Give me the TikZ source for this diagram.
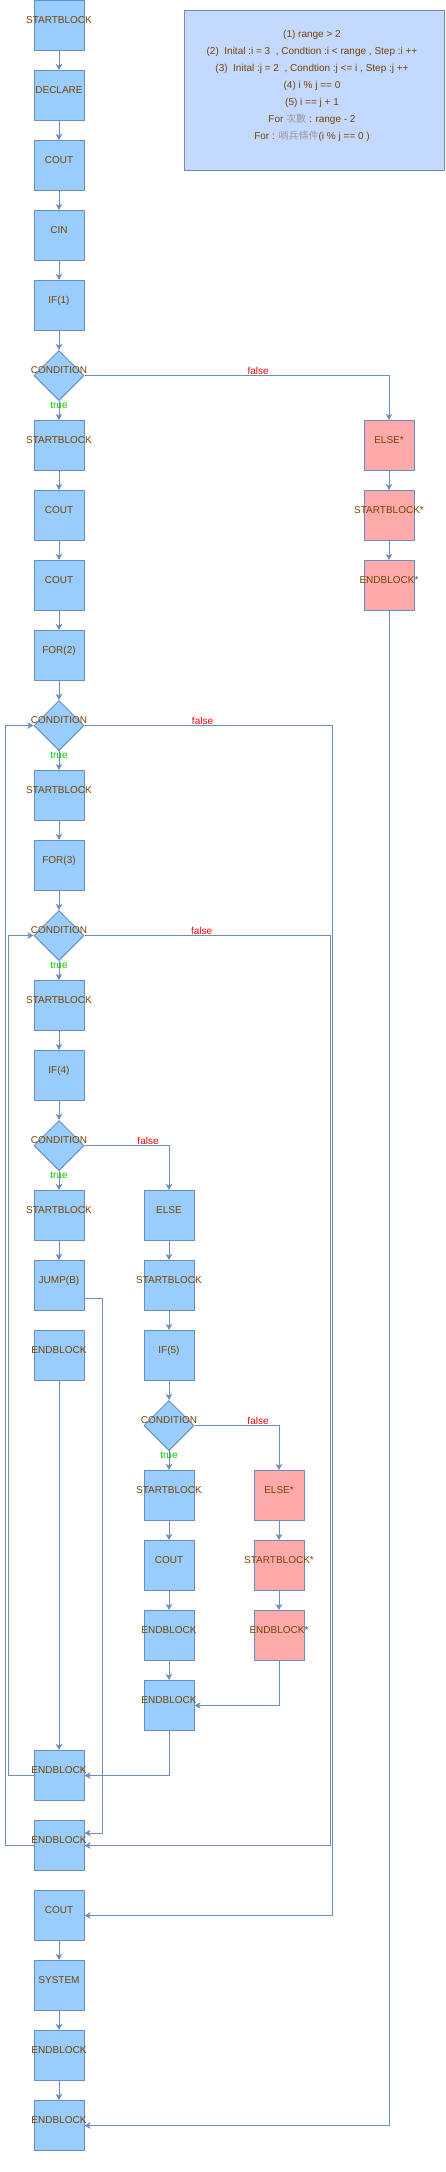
\documentclass[tikz,border=0pt]{standalone}
\usepackage{fontspec}
\setmainfont{Liberation Sans}
\newfontfamily\cjkfont{Noto Sans CJK TC}
\usetikzlibrary{shapes.geometric,arrows.meta}
\definecolor{blkfill}{HTML}{99CCFF}
\definecolor{altfill}{HTML}{FFAAAA}
\definecolor{notefill}{HTML}{C3D9FF}
\definecolor{edgeblue}{HTML}{6C8EBF}
\definecolor{txtbrown}{HTML}{774400}
\definecolor{truegreen}{HTML}{00CC00}
\definecolor{falsered}{HTML}{FF0000}
\definecolor{cjkgray}{HTML}{999999}

\begin{document}
\begin{tikzpicture}[x=1pt,y=-1pt,
        lbl/.style={text=txtbrown,font=\fontsize{10pt}{12pt}\selectfont,inner sep=0pt,yshift=5pt},
        blk/.style={rectangle,draw=edgeblue,line width=1pt,fill=blkfill,minimum width=50pt,minimum height=50pt,inner sep=0pt,anchor=north,label={[lbl]center:#1}},
        alt/.style={blk=#1,fill=altfill},
        cond/.style={diamond,draw=edgeblue,line width=1pt,fill=blkfill,minimum width=50pt,minimum height=50pt,inner sep=0pt,anchor=north,label={[lbl]center:CONDITION}},
        flow/.style={draw=edgeblue,line width=1pt,-{Stealth[length=6pt,width=6.5pt,inset=1.5pt]}},
        yes/.style={text=truegreen,font=\fontsize{10pt}{12pt}\selectfont,inner sep=0pt,yshift=5pt},
        no/.style={text=falsered,font=\fontsize{10pt}{12pt}\selectfont,inner sep=0pt,yshift=5pt},
        note/.style={rectangle,draw=edgeblue,line width=1pt,fill=notefill,minimum width=260pt,minimum height=160pt,anchor=north west},
        notetext/.style={text=txtbrown,align=center,inner sep=0pt,font=\fontsize{10pt}{17pt}\selectfont}]
                \useasboundingbox (0,0) rectangle (445,2172);

                % legend
                \node[note] (legend) at (184,10) {};
                \node[notetext] (legendtext) at (312,86) {(1) range > 2\\
                        (2)~ Inital :i = 3~ , Condtion :i < range , Step :i ++\\
                        (3)~ Inital :j = 2~ , Condtion :j <= i , Step :j ++\\
                        (4) i \% j == 0\\
                        (5) i == j + 1\\
                        For {\cjkfont\color{cjkgray}次數} : range - 2\\
                        For : {\cjkfont\color{cjkgray}哨兵條件}(i \% j == 0 )};

                % main column
                \node[blk=STARTBLOCK] (sb1) at (59,0) {};
                \node[blk=DECLARE] (decl) at (59,70) {};
                \node[blk=COUT] (cout1) at (59,140) {};
                \node[blk=CIN] (cin) at (59,210) {};
                \node[blk=IF(1)] (if1) at (59,280) {};
                \node[cond] (cond1) at (59,350) {}; %if(1)
                \node[blk=STARTBLOCK] (sb2) at (59,420) {};
                \node[blk=COUT] (cout2) at (59,490) {};
                \node[blk=COUT] (cout3) at (59,560) {};
                \node[blk=FOR(2)] (for2) at (59,630) {};
                \node[cond] (cond2) at (59,700) {}; %for(2)
                \node[blk=STARTBLOCK] (sb3) at (59,770) {};
                \node[blk=FOR(3)] (for3) at (59,840) {};
                \node[cond] (cond3) at (59,910) {}; %for(3)
                \node[blk=STARTBLOCK] (sb4) at (59,980) {};
                \node[blk=IF(4)] (if4) at (59,1050) {};
                \node[cond] (cond4) at (59,1120) {}; %if(4)
                \node[blk=STARTBLOCK] (sb5) at (59,1190) {};
                \node[blk=JUMP(B)] (jump) at (59,1260) {};
                \node[blk=ENDBLOCK] (eb1) at (59,1330) {};
                \node[blk=ENDBLOCK] (eb4) at (59,1750) {};
                \node[blk=ENDBLOCK] (eb5) at (59,1820) {};
                \node[blk=COUT] (cout5) at (59,1890) {};
                \node[blk=SYSTEM] (sys) at (59,1960) {};
                \node[blk=ENDBLOCK] (eb6) at (59,2030) {};
                \node[blk=ENDBLOCK] (eb7) at (59,2100) {};

                % else of if(4)
                \node[blk=ELSE] (else4) at (169,1190) {};
                \node[blk=STARTBLOCK] (sb6) at (169,1260) {};
                \node[blk=IF(5)] (if5) at (169,1330) {};
                \node[cond] (cond5) at (169,1400) {}; %if(5)
                \node[blk=STARTBLOCK] (sb7) at (169,1470) {};
                \node[blk=COUT] (cout4) at (169,1540) {};
                \node[blk=ENDBLOCK] (eb2) at (169,1610) {};
                \node[blk=ENDBLOCK] (eb3) at (169,1680) {};

                % empty else branches
                \node[alt=ELSE*] (else5) at (279,1470) {};
                \node[alt=STARTBLOCK*] (sbx5) at (279,1540) {};
                \node[alt=ENDBLOCK*] (ebx5) at (279,1610) {};
                \node[alt=ELSE*] (else1) at (389,420) {};
                \node[alt=STARTBLOCK*] (sbx1) at (389,490) {};
                \node[alt=ENDBLOCK*] (ebx1) at (389,560) {};

                \foreach \a/\b in {sb1/decl,decl/cout1,cout1/cin,cin/if1,if1/cond1,sb2/cout2,cout2/cout3,cout3/for2,for2/cond2,
                        sb3/for3,for3/cond3,sb4/if4,if4/cond4,sb5/jump,else4/sb6,sb6/if5,if5/cond5,sb7/cout4,cout4/eb2,eb2/eb3,
                        cout5/sys,sys/eb6,eb6/eb7,else5/sbx5,sbx5/ebx5,else1/sbx1,sbx1/ebx1,eb1/eb4}
                        \draw[flow] (\a) -- (\b);
                \foreach \c/\b in {cond1/sb2,cond2/sb3,cond3/sb4,cond4/sb5,cond5/sb7}
                        \draw[flow] (\c) -- node[yes] {true} (\b);

                \draw[flow] (cond1.east) -| node[no,pos=0.285] {false} (else1.north);
                \draw[flow] (cond2.east) -- node[no,pos=0.476] {false} ++(248,0) |- (cout5.east);
                \draw[flow] (cond3.east) -- node[no,pos=0.476] {false} ++(246,0) |- (eb5.east);
                \draw[flow] (cond4.east) -| node[no,pos=0.376] {false} (else4.north);
                \draw[flow] (cond5.east) -| node[no,pos=0.376] {false} (else5.north);

                \draw[flow] (eb5.west) -- ++(-28,0) |- (cond2.west); %loop (2)
                \draw[flow] (eb4.west) -- ++(-25,0) |- (cond3.west); %loop (3)
                \draw[flow] ([yshift=-12.5pt]jump.east) -- ++(18,0) |- ([yshift=12.5pt]eb5.east); %jump
                \draw[flow] (eb3.south) |- (eb4.east);
                \draw[flow] (ebx5.south) |- (eb3.east);
                \draw[flow] (ebx1.south) |- (eb7.east);
            \end{tikzpicture}
\end{document}
